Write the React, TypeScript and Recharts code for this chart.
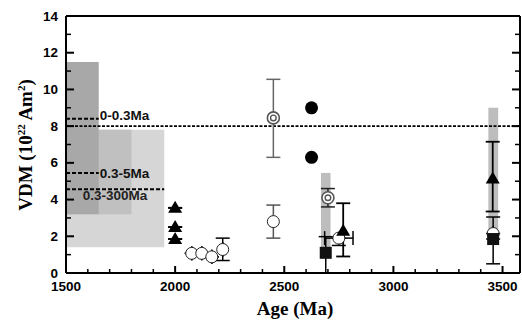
import React from "react";
import {
  ComposedChart, Scatter, XAxis, YAxis, ErrorBar, ReferenceArea, ReferenceLine,
} from "recharts";

// x ticks every 100 Ma, labels on the 500s
const xTicks = [1500, 1600, 1700, 1800, 1900, 2000, 2100, 2200, 2300, 2400, 2500, 2600, 2700, 2800, 2900, 3000, 3100, 3200, 3300, 3400, 3500];
const yTicks = [0, 1, 2, 3, 4, 5, 6, 7, 8, 9, 10, 11, 12, 13, 14];

// recent-field reference boxes (x range in Ma, VDM range)
const refBoxes = [
  { x1: 1500, x2: 1950, y1: 1.4, y2: 7.8, fill: "#d6d6d6" },
  { x1: 1500, x2: 1800, y1: 3.2, y2: 7.8, fill: "#c0c0c0" },
  { x1: 1500, x2: 1650, y1: 3.2, y2: 11.5, fill: "#a8a8a8" },
];
// grey ranges behind individual studies
const studyBands = [
  { x1: 2668, x2: 2712, y1: 1.0, y2: 5.45 },
  { x1: 3435, x2: 3480, y1: 1.9, y2: 9.0 },
];
// mean VDM levels
const meanLevels = [
  { label: "0-0.3Ma", y: 8.4, x2: 1650 },
  { label: "0.3-5Ma", y: 5.45, x2: 1650 },
  { label: "0.3-300Ma", y: 4.56, x2: 1950 },
];
const presentDay = 8;

const filledTriangles = [
  { x: 2000, y: 3.55, ey: [0, 0] },
  { x: 2000, y: 2.5, ey: [0, 0] },
  { x: 2000, y: 1.85, ey: [0, 0] },
  { x: 2770, y: 2.3, ey: [1.4, 1.5] },
  { x: 3455, y: 5.15, ey: [1.8, 2.0] },
];
const openCircles = [
  { x: 2076, y: 1.07, ey: [0, 0], ex: [0, 0] },
  { x: 2122, y: 1.07, ey: [0, 0], ex: [0, 0] },
  { x: 2168, y: 0.88, ey: [0, 0], ex: [0, 0] },
  { x: 2218, y: 1.28, ey: [0.6, 0.62], ex: [0, 0] },
  { x: 2750, y: 1.9, ey: [0.4, 0], ex: [65, 65] },
  { x: 3457, y: 2.15, ey: [0, 0.9], ex: [0, 0] },
];
const greyOpenCircles = [
  { x: 2450, y: 2.8, ey: [0.9, 0.9] },
];
const ringCircles = [
  { x: 2450, y: 8.45, ey: [2.15, 2.1] },
];
const ringCirclesDark = [
  { x: 2700, y: 4.1, ey: [0.5, 0.5] },
];
const filledCircles = [
  { x: 2625, y: 9.0 },
  { x: 2625, y: 6.3 },
];
const filledSquares = [
  { x: 2690, y: 1.1, ey: [1.1, 0.88] },
  { x: 3457, y: 1.85, ey: [1.35, 0] },
];

const tickFont = { fontFamily: "'Liberation Sans', Arial, sans-serif", fontWeight: 700, fontSize: 13.5 };

const BottomTick = (p: any) => {
  const major = p.payload.value % 500 === 0;
  return (
    <g>
      <line x1={p.x} x2={p.x} y1={p.y} y2={p.y - (major ? 7 : 4)} stroke="#000" strokeWidth={major ? 2 : 1.5} />
      {major && (
        <text x={p.x} y={p.y + 18} textAnchor="middle" fill="#000" style={tickFont}>{p.payload.value}</text>
      )}
    </g>
  );
};
const TopTick = (p: any) => {
  const major = p.payload.value % 500 === 0;
  return <line x1={p.x} x2={p.x} y1={p.y} y2={p.y + (major ? 7 : 4)} stroke="#000" strokeWidth={major ? 2 : 1.5} />;
};
const LeftTick = (p: any) => {
  const major = p.payload.value % 2 === 0;
  return (
    <g>
      <line x1={p.x} x2={p.x + (major ? 8 : 5)} y1={p.y} y2={p.y} stroke="#000" strokeWidth={major ? 2 : 1.5} />
      {major && (
        <text x={p.x - 8} y={p.y + 4.5} textAnchor="end" fill="#000" style={tickFont}>{p.payload.value}</text>
      )}
    </g>
  );
};
const RightTick = (p: any) => {
  const major = p.payload.value % 2 === 0;
  return <line x1={p.x} x2={p.x - (major ? 8 : 5)} y1={p.y} y2={p.y} stroke="#000" strokeWidth={major ? 2 : 1.5} />;
};

const Triangle = (p: any) => (
  <polygon points={`${p.cx},${p.cy - 7} ${p.cx - 7},${p.cy + 5} ${p.cx + 7},${p.cy + 5}`} fill="#000" />
);
const Square = (p: any) => <rect x={p.cx - 6} y={p.cy - 6} width={12} height={12} fill="#111" />;
const Dot = (p: any) => <circle cx={p.cx} cy={p.cy} r={6.5} fill="#000" />;
const OpenDot = (p: any) => <circle cx={p.cx} cy={p.cy} r={6} fill="#fff" stroke="#222" strokeWidth={1} />;
const Ring = (p: any) => (
  <g>
    <circle cx={p.cx} cy={p.cy} r={6} fill="#fff" stroke="#555" strokeWidth={1.6} />
    <circle cx={p.cx} cy={p.cy} r={2.8} fill="#fff" stroke="#555" strokeWidth={1.4} />
  </g>
);

const levelLabel = (text: string, below: boolean) => (props: any) => {
  const vb = props.viewBox || {};
  if (below) {
    return (
      <text x={vb.x + vb.width / 2} y={vb.y + 11} textAnchor="middle" fill="#222" style={tickFont}>{text}</text>
    );
  }
  return (
    <text x={vb.x + vb.width + 1} y={vb.y + (text === "0-0.3Ma" ? 1 : 5)} textAnchor="start" fill="#111" style={tickFont}>{text}</text>
  );
};

export default function App() {
  const titleFont = { fontFamily: "'Liberation Serif', 'Times New Roman', serif", fontWeight: 700, fontSize: 19 };
  return (
    <div style={{ position: "absolute", left: 0, top: 0, width: 522, height: 320, background: "#fff" }}>
      <ComposedChart width={522} height={320} margin={{ top: 15, right: 1, bottom: 0, left: 0 }}>
        <XAxis xAxisId={0} dataKey="x" type="number" domain={[1500, 3580]} ticks={xTicks} allowDataOverflow
          height={47} tickSize={0} tickMargin={0} tickLine={false} interval={0}
          axisLine={{ stroke: "#000", strokeWidth: 2 }} tick={<BottomTick />} />
        <XAxis xAxisId="top" orientation="top" type="number" domain={[1500, 3580]} ticks={xTicks} allowDataOverflow
          height={1} tickSize={0} tickMargin={0} tickLine={false} interval={0}
          axisLine={{ stroke: "#000", strokeWidth: 2 }} tick={<TopTick />} />
        <YAxis yAxisId={0} dataKey="y" type="number" domain={[0, 14]} ticks={yTicks} allowDataOverflow
          width={66} tickSize={0} tickMargin={0} tickLine={false} interval={0}
          axisLine={{ stroke: "#000", strokeWidth: 2 }} tick={<LeftTick />} />
        <YAxis yAxisId="right" orientation="right" type="number" domain={[0, 14]} ticks={yTicks} allowDataOverflow
          width={1} tickSize={0} tickMargin={0} tickLine={false} interval={0}
          axisLine={{ stroke: "#000", strokeWidth: 2 }} tick={<RightTick />} />

        {refBoxes.map((b, i) => (
          <ReferenceArea key={"b" + i} x1={b.x1} x2={b.x2} y1={b.y1} y2={b.y2} fill={b.fill} fillOpacity={1} stroke="none" />
        ))}
        {studyBands.map((b, i) => (
          <ReferenceArea key={"s" + i} x1={b.x1} x2={b.x2} y1={b.y1} y2={b.y2} fill="#bdbdbd" fillOpacity={1} stroke="none" />
        ))}
        <ReferenceLine y={presentDay} stroke="#000" strokeWidth={1.6} strokeDasharray="3 1.5" />
        {meanLevels.map((m, i) => (
          <ReferenceLine key={"m" + i} segment={[{ x: 1500, y: m.y }, { x: m.x2, y: m.y }]}
            stroke="#000" strokeWidth={2} strokeDasharray="4 2"
            label={levelLabel(m.label, m.label === "0.3-300Ma")} />
        ))}

        <Scatter data={filledCircles} shape={<Dot />} isAnimationActive={false} />
        <Scatter data={greyOpenCircles} shape={<OpenDot />} isAnimationActive={false}>
          <ErrorBar dataKey="ey" direction="y" width={7} stroke="#555" strokeWidth={1.5} />
        </Scatter>
        <Scatter data={ringCircles} shape={<Ring />} isAnimationActive={false}>
          <ErrorBar dataKey="ey" direction="y" width={7} stroke="#666" strokeWidth={1.5} />
        </Scatter>
        <Scatter data={ringCirclesDark} shape={<Ring />} isAnimationActive={false}>
          <ErrorBar dataKey="ey" direction="y" width={7} stroke="#222" strokeWidth={1.5} />
        </Scatter>
        <Scatter data={openCircles} shape={<OpenDot />} isAnimationActive={false}>
          <ErrorBar dataKey="ey" direction="y" width={7} stroke="#000" strokeWidth={1.5} />
          <ErrorBar dataKey="ex" direction="x" width={7} stroke="#000" strokeWidth={1.5} />
        </Scatter>
        <Scatter data={filledSquares} shape={<Square />} isAnimationActive={false}>
          <ErrorBar dataKey="ey" direction="y" width={7} stroke="#000" strokeWidth={1.5} />
        </Scatter>
        <Scatter data={filledTriangles} shape={<Triangle />} isAnimationActive={false}>
          <ErrorBar dataKey="ey" direction="y" width={7} stroke="#000" strokeWidth={1.8} />
        </Scatter>
      </ComposedChart>
      <svg width={522} height={320} style={{ position: "absolute", left: 0, top: 0, pointerEvents: "none" }}>
        <text x={295} y={315} textAnchor="middle" fill="#000" style={titleFont}>Age (Ma)</text>
        <text transform="translate(32,145) rotate(-90)" textAnchor="middle" fill="#000" style={titleFont}>
          VDM (10<tspan dy={-7} fontSize={11}>22</tspan><tspan dy={7}> Am</tspan><tspan dy={-7} fontSize={11}>2</tspan><tspan dy={7}>)</tspan>
        </text>
      </svg>
    </div>
  );
}
